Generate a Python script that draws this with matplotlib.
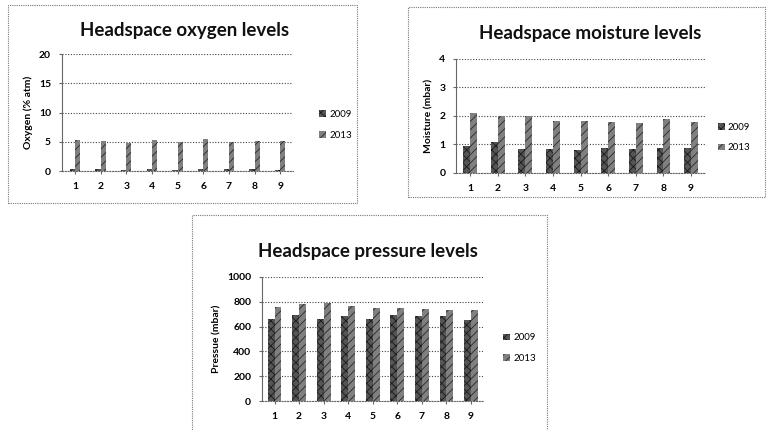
import matplotlib.pyplot as plt
import matplotlib.patches as mpatches
import numpy as np

plt.rcParams['font.family'] = ['Lato', 'DejaVu Sans']
plt.rcParams['hatch.linewidth'] = 0.6

# data
samples = ['1', '2', '3', '4', '5', '6', '7', '8', '9']
years = ['2009', '2013']

oxygen_2009 = [0.3, 0.3, 0.25, 0.3, 0.25, 0.3, 0.3, 0.3, 0.25]
oxygen_2013 = [5.3, 5.1, 4.8, 5.3, 4.9, 5.5, 4.9, 5.1, 5.1]

moisture_2009 = [0.93, 1.07, 0.85, 0.83, 0.79, 0.88, 0.83, 0.86, 0.86]
moisture_2013 = [2.1, 1.99, 2.0, 1.83, 1.83, 1.8, 1.74, 1.9, 1.78]

pressure_2009 = [663, 690, 663, 682, 663, 690, 682, 682, 655]
pressure_2013 = [759, 785, 788, 764, 753, 753, 745, 737, 737]

fig = plt.figure(figsize=(7.67, 4.30), dpi=100)

# dotted frames round each chart
for (x0, y0, w, h) in [(0.010, 0.528, 0.455, 0.460),
                       (0.532, 0.542, 0.466, 0.442),
                       (0.250, -0.01, 0.463, 0.510)]:
    fig.patches.append(mpatches.Rectangle((x0, y0), w, h, transform=fig.transFigure,
                                          fill=False, ec='#777777', lw=0.8, ls=(0, (1, 1))))


def draw(rect, v09, v13, ymax, step, ylabel, title, title_xy, leg_xy, width):
    ax = fig.add_axes(rect)
    x = np.arange(len(samples))
    ax.bar(x - width / 2, v09, width, color='#555555', hatch='xxxx',
           edgecolor='#1a1a1a', lw=0, label=years[0], zorder=3)
    ax.bar(x + width / 2, v13, width, color='#808080', hatch='////',
           edgecolor='#2a2a2a', lw=0, label=years[1], zorder=3)
    ax.set_xlim(-0.5, len(samples) - 0.5)
    ax.set_ylim(0, ymax)
    ax.set_yticks(np.arange(0, ymax + step / 2, step))
    ax.set_xticks(x)
    ax.set_xticklabels(samples)
    ax.yaxis.grid(True, ls=(0, (1, 1.5)), color='#444444', lw=0.8)
    ax.set_axisbelow(True)
    for s in ['top', 'right']:
        ax.spines[s].set_visible(False)
    ax.spines['left'].set_color('#666666')
    ax.spines['bottom'].set_linestyle((0, (1, 1.5)))
    ax.spines['bottom'].set_color('#666666')
    ax.tick_params(labelsize=7.5, length=2, color='#666666', pad=6)
    for t in ax.get_xticklabels() + ax.get_yticklabels():
        t.set_fontweight('bold')
    ax.set_ylabel(ylabel, fontsize=7.5, fontweight='bold', labelpad=4)
    fig.text(title_xy[0], title_xy[1], title, fontsize=13.5, fontweight='bold',
             ha='center', va='center', color='#111111')
    ax.legend(loc='center left', bbox_to_anchor=leg_xy, bbox_transform=fig.transFigure,
              frameon=False, fontsize=7, handlelength=0.7, handleheight=0.7,
              handletextpad=0.3, labelspacing=1.2)
    return ax


draw([0.081, 0.602, 0.301, 0.272], oxygen_2009, oxygen_2013, 20, 5,
     'Oxygen (% atm)', 'Headspace oxygen levels', (0.24, 0.93), (0.405, 0.71), 0.2)
draw([0.595, 0.598, 0.324, 0.265], moisture_2009, moisture_2013, 4, 1,
     'Moisture (mbar)', 'Headspace moisture levels', (0.769, 0.923), (0.925, 0.68), 0.25)
draw([0.342, 0.067, 0.288, 0.289], pressure_2009, pressure_2013, 1000, 200,
     'Pressue (mbar)', 'Headspace pressure levels', (0.48, 0.414), (0.645, 0.19), 0.28)

fig.savefig('out.png', dpi=100)
